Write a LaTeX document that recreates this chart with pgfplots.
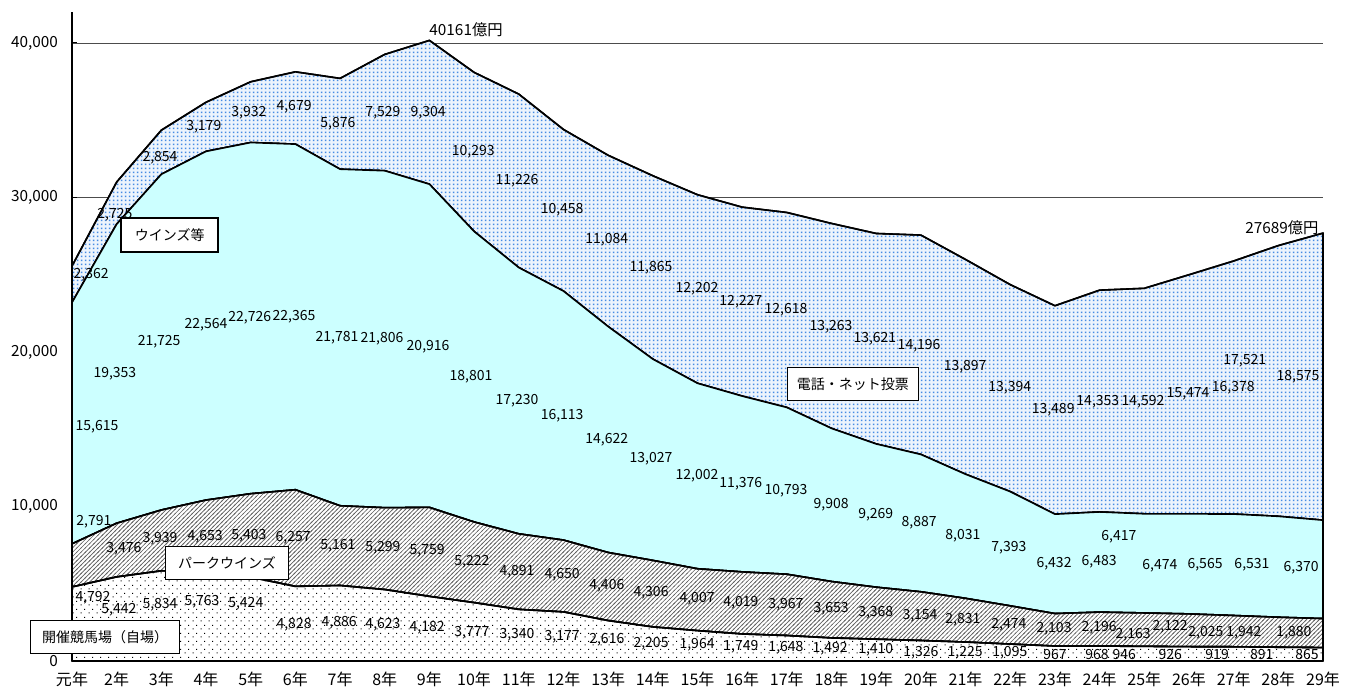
\documentclass[border=0pt]{standalone}
\usepackage{fontspec}
\setmainfont{Noto Sans CJK JP}
\usepackage{pgfplots}
\pgfplotsset{compat=1.18}
\usepackage{pgfplotstable}
\usetikzlibrary{patterns}

\definecolor{windcyan}{RGB}{204,255,255}
\definecolor{dotblue}{RGB}{70,140,228}
\definecolor{dotback}{RGB}{236,244,253}
\definecolor{hatchgray}{RGB}{95,95,95}

% blue halftone for telephone / internet sales
\pgfdeclarepatterninherentlycolored{bluedots}
{\pgfpointorigin}{\pgfqpoint{3pt}{3pt}}{\pgfqpoint{3pt}{3pt}}
{%
  \pgfsetfillcolor{dotblue}%
  \pgfpathrectangle{\pgfqpoint{0.75pt}{0.75pt}}{\pgfqpoint{1.5pt}{1.5pt}}%
  \pgfusepath{fill}%
}
% diagonal hatching for park winds
\pgfdeclarepatterninherentlycolored{hatch}
{\pgfqpoint{-1pt}{-1pt}}{\pgfqpoint{4.2pt}{4.2pt}}{\pgfqpoint{3.2pt}{3.2pt}}
{%
  \pgfsetstrokecolor{hatchgray}%
  \pgfsetlinewidth{0.5pt}%
  \pgfpathmoveto{\pgfqpoint{-0.5pt}{-0.5pt}}%
  \pgfpathlineto{\pgfqpoint{3.7pt}{3.7pt}}%
  \pgfusepath{stroke}%
}
% sparse black dots for on-course sales
\pgfdeclarepatterninherentlycolored{sparsedots}
{\pgfpointorigin}{\pgfqpoint{6pt}{6pt}}{\pgfqpoint{6pt}{6pt}}
{%
  \pgfsetfillcolor{black}%
  \pgfpathrectangle{\pgfqpoint{0.5pt}{0.5pt}}{\pgfqpoint{0.85pt}{0.85pt}}%
  \pgfpathrectangle{\pgfqpoint{3.5pt}{3.5pt}}{\pgfqpoint{0.85pt}{0.85pt}}%
  \pgfusepath{fill}%
}

\newcommand{\lbl}{\fontsize{10.5}{12}\selectfont}
\newcommand{\tkl}{\fontsize{11.5}{13}\selectfont}

% sales by channel (100 million yen)
\pgfplotstableread{
x kaisai park winds phone
0 4792 2791 15615 2362
1 5442 3476 19353 2725
2 5834 3939 21725 2854
3 5763 4653 22564 3179
4 5424 5403 22726 3932
5 4828 6257 22365 4679
6 4886 5161 21781 5876
7 4623 5299 21806 7529
8 4182 5759 20916 9304
9 3777 5222 18801 10293
10 3340 4891 17230 11226
11 3177 4650 16113 10458
12 2616 4406 14622 11084
13 2205 4306 13027 11865
14 1964 4007 12002 12202
15 1749 4019 11376 12227
16 1648 3967 10793 12618
17 1492 3653 9908 13263
18 1410 3368 9269 13621
19 1326 3154 8887 14196
20 1225 2831 8031 13897
21 1095 2474 7393 13394
22 967 2103 6432 13489
23 968 2196 6483 14353
24 946 2163 6417 14592
25 926 2122 6474 15474
26 919 2025 6565 16378
27 891 1942 6531 17521
28 865 1880 6370 18575
}\sales

% value labels: position and text
\pgfplotstableread{
x y l
0.47 4077 4,792
1.05 3300 5,442
1.97 3624 5,834
2.91 3818 5,763
3.89 3689 5,424
4.97 2330 4,828
5.98 2459 4,886
6.96 2330 4,623
7.95 2136 4,182
8.95 1812 3,777
9.96 1683 3,340
10.97 1553 3,177
11.97 1359 2,616
12.96 1100 2,205
13.99 1035 1,964
14.97 906 1,749
15.98 841 1,648
16.97 777 1,492
17.99 712 1,410
19.00 518 1,326
19.99 518 1,225
20.99 518 1,095
22.00 388 967
22.94 388 968
23.55 388 946
24.58 388 926
25.63 388 919
26.63 388 891
27.64 388 865
0.49 8996 2,791
1.16 7248 3,476
1.97 7895 3,939
2.98 8025 4,653
3.96 8090 5,403
4.95 7960 6,257
5.95 7442 5,161
6.96 7313 5,299
7.95 7119 5,759
8.95 6407 5,222
9.96 5760 4,891
10.97 5566 4,650
11.97 4854 4,406
12.96 4401 4,306
13.99 4012 4,007
14.97 3754 4,019
15.98 3624 3,967
16.99 3365 3,653
17.99 3106 3,368
18.98 2912 3,154
19.94 2653 2,831
20.97 2330 2,474
21.98 2071 2,103
22.99 2136 2,196
23.75 1683 2,163
24.58 2200 2,122
25.38 1812 2,025
26.23 1812 1,942
27.35 1812 1,880
0.56 15144 15,615
0.96 18573 19,353
1.95 20644 21,725
3.00 21745 22,564
3.98 22198 22,726
4.97 22262 22,365
5.93 20903 21,781
6.94 20839 21,806
7.97 20321 20,916
8.93 18379 18,801
9.96 16826 17,230
10.97 15855 16,113
11.97 14302 14,622
12.96 13073 13,027
13.99 11972 12,002
14.97 11455 11,376
15.98 11002 10,793
16.99 10096 9,908
17.99 9449 9,269
18.96 8931 8,887
19.94 8090 8,031
20.97 7313 7,393
21.98 6277 6,432
22.99 6407 6,483
23.43 8025 6,417
24.35 6148 6,474
25.36 6213 6,565
26.41 6213 6,531
27.51 6019 6,370
0.43 24980 2,362
0.96 28863 2,725
1.97 32552 2,854
2.95 34558 3,179
3.96 35464 3,932
4.97 35853 4,679
5.95 34753 5,876
6.96 35464 7,529
7.97 35464 9,304
8.98 32940 10,293
9.96 31064 11,226
10.97 29187 10,458
11.97 27245 11,084
12.96 25433 11,865
13.99 24074 12,202
14.97 23233 12,227
15.98 22715 12,618
16.99 21615 13,263
17.97 20839 13,621
18.96 20386 14,196
19.99 19027 13,897
20.99 17667 13,394
21.96 16244 13,489
22.96 16761 14,353
23.97 16761 14,592
24.98 17279 15,474
25.99 17667 16,378
26.25 19415 17,521
27.44 18379 18,575
}\labels

\pgfplotsset{
  frame/.style={
    at={(0,0)}, anchor=south west, scale only axis,
    width=938.25pt, height=486.75pt,
    xmin=0, xmax=28, ymin=0, ymax=42000,
    clip=false,
  },
  arealine/.style={draw=black, line width=1.2pt, line join=round},
}

\begin{document}
\begin{tikzpicture}
\useasboundingbox (-54pt,-24pt) rectangle (965.25pt,495.75pt);
\begin{axis}[
  frame,
  axis x line*=bottom, axis y line*=left,
  axis line style={black, line width=0.9pt},
  xtick={0,...,28},
  xticklabels={元年,2年,3年,4年,5年,6年,7年,8年,9年,10年,11年,12年,13年,14年,15年,16年,17年,18年,19年,20年,21年,22年,23年,24年,25年,26年,27年,28年,29年},
  ytick={0,10000,20000,30000,40000},
  scaled y ticks=false,
  tick align=inside, major tick length=4pt,
  tick style={black, line width=0.8pt},
  ymajorgrids, major grid style={black!70, line width=0.6pt},
  yticklabel style={/pgf/number format/assume math mode=true,
    /pgf/number format/1000 sep={,}, font=\tkl, xshift=-7pt},
  xticklabel style={font=\fontsize{12}{14}\selectfont, yshift=-5pt},
  stack plots=y,
]
\addplot[arealine, preaction={fill=white}, pattern=sparsedots]
  table[x=x, y=kaisai] {\sales} \closedcycle;
\addplot[arealine, preaction={fill=white}, pattern=hatch]
  table[x=x, y=park] {\sales} \closedcycle;
\addplot[arealine, fill=windcyan]
  table[x=x, y=winds] {\sales} \closedcycle;
\addplot[arealine, preaction={fill=dotback}, pattern=bluedots]
  table[x=x, y=phone] {\sales} \closedcycle;
\end{axis}

\begin{axis}[frame, hide axis]
\addplot[draw=none, mark=none, nodes near coords, point meta=explicit symbolic,
  nodes near coords style={anchor=center, font=\lbl, inner sep=0pt, text=black}]
  table[x=x, y=y, meta=l] {\labels};
\node[font=\tkl] at (axis cs:8.82,40836) {40161億円};
\node[font=\tkl] at (axis cs:27.08,28022) {27689億円};
\tikzset{box/.style={draw=black, line width=1.3pt, fill=white, inner sep=0pt,
  minimum height=24.75pt, font=\lbl}}
\node[box, minimum width=72.75pt, minimum height=25.5pt] at (axis cs:2.19,27569) {ウインズ等};
\node[box, minimum width=92.25pt] at (axis cs:3.47,6342) {パークウインズ};
\node[box, minimum width=111.75pt] at (axis cs:0.74,1553) {開催競馬場（自場）};
\node[box, minimum width=98.25pt] at (axis cs:17.48,17926) {電話・ネット投票};
\end{axis}
\end{tikzpicture}
\end{document}
